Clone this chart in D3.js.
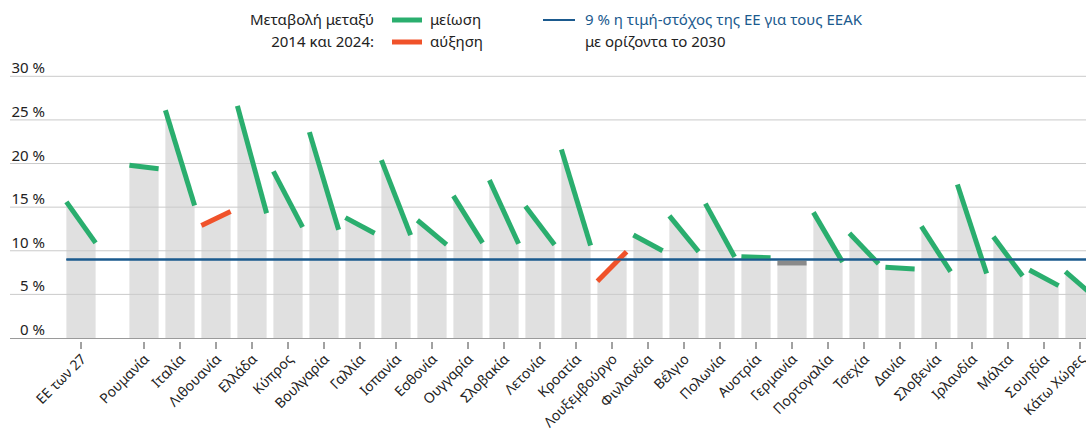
<!DOCTYPE html>
<html>
<head>
<meta charset="utf-8">
<script src="https://cdn.jsdelivr.net/npm/d3@7"></script>
<style>
  body { margin: 0; background: #fff; }
  svg { display: block; font-family: "Noto Sans", "Open Sans", sans-serif; }
</style>
</head>
<body>
<svg id="chart" width="1086" height="438"></svg>
<script>
// NEET rates, 2014 and 2024 (first entry is the EU average)
const countries = ["ΕΕ των 27", "Ρουμανία", "Ιταλία", "Λιθουανία", "Ελλάδα", "Κύπρος", "Βουλγαρία",
  "Γαλλία", "Ισπανία", "Εσθονία", "Ουγγαρία", "Σλοβακία", "Λετονία", "Κροατία", "Λουξεμβούργο",
  "Φινλανδία", "Βέλγιο", "Πολωνία", "Αυστρία", "Γερμανία", "Πορτογαλία", "Τσεχία", "Δανία",
  "Σλοβενία", "Ιρλανδία", "Μάλτα", "Σουηδία", "Κάτω Χώρες"];
const v2014 = [15.6, 19.8, 26.1, 12.9, 26.6, 19.1, 23.6, 13.8, 20.4, 13.5, 16.3, 18.1, 15.1, 21.6, 6.5,
  11.8, 14.0, 15.4, 9.3, 8.6, 14.4, 12.0, 8.1, 12.8, 17.6, 11.6, 7.8, 7.6];
const v2024 = [10.9, 19.4, 15.2, 14.5, 14.3, 12.7, 12.4, 12.0, 11.8, 10.7, 10.9, 10.8, 10.7, 10.6, 9.9,
  10.0, 9.9, 9.3, 9.2, 8.6, 8.7, 8.5, 7.9, 7.6, 7.4, 7.1, 6.0, 4.7];
const yTicks = [0, 5, 10, 15, 20, 25, 30];
const target = 9;

const svg = d3.select("#chart");
const green = "#2aae6e", red = "#f0522a", flat = "#8a8a8a", blue = "#1b5a8e";

const y = d3.scaleLinear().domain([0, 30]).range([338, 76.3]);
// slot index: EU sits a bit apart from the member states
const slot = i => i === 0 ? -1.75 : i - 1;
const x = d3.scaleLinear().domain([0, 26]).range([144, 1080]);
const half = 14.6;

const data = countries.map((c, i) => ({ name: c, a: v2014[i], b: v2024[i], cx: x(slot(i)) }));

// bars (area under the slope line)
svg.append("g").selectAll("path").data(data).join("path")
  .attr("d", d => `M${d.cx - half},${y(0)}L${d.cx - half},${y(d.a)}L${d.cx + half},${y(d.b)}L${d.cx + half},${y(0)}Z`)
  .attr("fill", "#e0e0e0");

// grid
const grid = svg.append("g");
grid.selectAll("line").data(yTicks.filter(t => t > 0)).join("line")
  .attr("x1", 10).attr("x2", 1086)
  .attr("y1", d => y(d)).attr("y2", d => y(d))
  .attr("stroke", "#cacaca").attr("stroke-width", 1);
grid.selectAll("text").data(yTicks).join("text")
  .attr("x", 45).attr("y", d => y(d) - 3)
  .attr("text-anchor", "end")
  .attr("font-size", 15).attr("fill", "#222")
  .text(d => `${d} %`);

// baseline + ticks
svg.append("line").attr("x1", 10).attr("x2", 1086)
  .attr("y1", y(0) + 0.5).attr("y2", y(0) + 0.5)
  .attr("stroke", "#9a9a9a").attr("stroke-width", 1.2);
svg.append("g").selectAll("line").data(data).join("line")
  .attr("x1", d => d.cx).attr("x2", d => d.cx)
  .attr("y1", y(0) + 4).attr("y2", y(0) + 11)
  .attr("stroke", "#444").attr("stroke-width", 1);

// target line
svg.append("line")
  .attr("x1", data[0].cx - half).attr("x2", 1086)
  .attr("y1", y(target)).attr("y2", y(target))
  .attr("stroke", blue).attr("stroke-width", 2);

// change segments
const colour = d => d.b - d.a < -0.05 ? green : (d.b - d.a > 0.05 ? red : flat);
svg.append("g").selectAll("line").data(data).join("line")
  .attr("x1", d => d.cx - half).attr("x2", d => d.cx + half)
  .attr("y1", d => y(d.a)).attr("y2", d => y(d.b))
  .attr("stroke", colour).attr("stroke-width", 5);

// re-draw target line above grey flat segment only where needed
svg.append("line")
  .attr("x1", data[0].cx - half).attr("x2", 1086)
  .attr("y1", y(target)).attr("y2", y(target))
  .attr("stroke", blue).attr("stroke-width", 2);

// category labels
svg.append("g").selectAll("text").data(data).join("text")
  .attr("transform", d => `translate(${d.cx + 6},${y(0) + 22}) rotate(-45)`)
  .attr("text-anchor", "end")
  .attr("font-size", 14).attr("fill", "#222")
  .text(d => d.name);

// legend
const lg = svg.append("g").attr("font-size", 15).attr("fill", "#222");
lg.append("text").attr("x", 374).attr("y", 25).attr("text-anchor", "end").text("Μεταβολή μεταξύ");
lg.append("text").attr("x", 374).attr("y", 47).attr("text-anchor", "end").text("2014 και 2024:");
lg.append("line").attr("x1", 392).attr("x2", 422).attr("y1", 20).attr("y2", 20)
  .attr("stroke", green).attr("stroke-width", 5);
lg.append("line").attr("x1", 392).attr("x2", 422).attr("y1", 42).attr("y2", 42)
  .attr("stroke", red).attr("stroke-width", 5);
lg.append("text").attr("x", 430).attr("y", 25).text("μείωση");
lg.append("text").attr("x", 430).attr("y", 47).text("αύξηση");
lg.append("line").attr("x1", 543).attr("x2", 575).attr("y1", 20).attr("y2", 20)
  .attr("stroke", blue).attr("stroke-width", 2);
lg.append("text").attr("x", 585).attr("y", 25).attr("fill", blue).text("9 % η τιμή-στόχος της ΕΕ για τους ΕΕΑΚ");
lg.append("text").attr("x", 585).attr("y", 47).text("με ορίζοντα το 2030");
</script>
</body>
</html>
